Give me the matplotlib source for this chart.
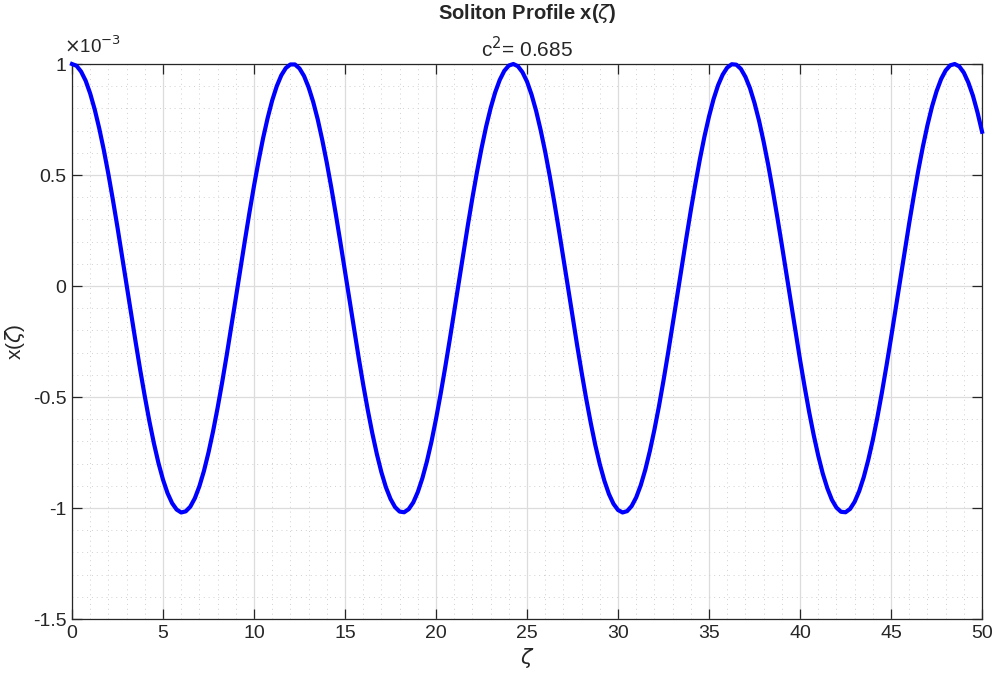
import matplotlib
matplotlib.use("Agg")
import matplotlib.pyplot as plt
from matplotlib.ticker import MultipleLocator

plt.rcParams['font.family'] = ['Liberation Sans', 'DejaVu Sans']
plt.rcParams['axes.unicode_minus'] = False

# Data (zeta sampled every 0.25, x in units of 1e-3)
zeta_start = 0.0
zeta_step = 0.25
x_e3 = [
    1.000, 0.992, 0.966, 0.925, 0.867, 0.795, 0.709, 0.612, 0.504, 0.387,
    0.264, 0.136, 0.005, -0.126, -0.254, -0.379, -0.497, -0.608, -0.708, -0.797,
    -0.872, -0.933, -0.978, -1.007, -1.020, -1.015, -0.994, -0.956, -0.902, -0.833,
    -0.750, -0.655, -0.549, -0.434, -0.312, -0.185, -0.055, 0.076, 0.205, 0.331,
    0.451, 0.563, 0.666, 0.757, 0.836, 0.900, 0.949, 0.982, 0.998, 0.998,
    0.980, 0.946, 0.895, 0.830, 0.751, 0.658, 0.555, 0.442, 0.321, 0.195,
    0.065, -0.066, -0.196, -0.322, -0.444, -0.558, -0.663, -0.757, -0.839, -0.907,
    -0.959, -0.996, -1.016, -1.019, -1.005, -0.975, -0.928, -0.866, -0.790, -0.701,
    -0.599, -0.488, -0.369, -0.244, -0.115, 0.016, 0.146, 0.274, 0.397, 0.513,
    0.620, 0.717, 0.801, 0.872, 0.928, 0.969, 0.993, 1.000, 0.990, 0.963,
    0.921, 0.862, 0.789, 0.702, 0.604, 0.495, 0.377, 0.253, 0.125, -0.005,
    -0.136, -0.265, -0.389, -0.507, -0.616, -0.716, -0.803, -0.877, -0.937, -0.981,
    -1.009, -1.020, -1.014, -0.991, -0.952, -0.897, -0.827, -0.743, -0.647, -0.541,
    -0.425, -0.302, -0.175, -0.045, 0.086, 0.215, 0.341, 0.460, 0.572, 0.674,
    0.764, 0.842, 0.905, 0.952, 0.984, 0.999, 0.997, 0.978, 0.942, 0.891,
    0.824, 0.744, 0.650, 0.546, 0.432, 0.311, 0.185, 0.055, -0.076, -0.206,
    -0.332, -0.453, -0.567, -0.671, -0.764, -0.845, -0.911, -0.963, -0.998, -1.017,
    -1.019, -1.004, -0.972, -0.924, -0.861, -0.783, -0.693, -0.591, -0.479, -0.359,
    -0.234, -0.105, 0.026, 0.156, 0.284, 0.406, 0.522, 0.628, 0.724, 0.808,
    0.877, 0.932, 0.971, 0.994, 1.000, 0.989, 0.961, 0.916, 0.857, 0.782,
    0.695,
]
zeta = [zeta_start + i * zeta_step for i in range(len(x_e3))]

x_ticks = [0, 5, 10, 15, 20, 25, 30, 35, 40, 45, 50]
y_ticks = [-1.5, -1, -0.5, 0, 0.5, 1]
y_ticklabels = ['-1.5', '-1', '-0.5', '0', '0.5', '1']

# Plotting
fig = plt.figure(figsize=(9.97, 6.81), dpi=100)
ax = fig.add_axes([0.0722, 0.091, 0.9128, 0.815])

ax.plot(zeta, x_e3, color=(0, 0, 1), lw=3, clip_on=False, zorder=3)

ax.set_xlim(0, 50)
ax.set_ylim(-1.5, 1)
ax.set_xticks(x_ticks)
ax.set_yticks(y_ticks)
ax.set_yticklabels(y_ticklabels)
ax.xaxis.set_minor_locator(MultipleLocator(1))
ax.yaxis.set_minor_locator(MultipleLocator(0.1))

ax.grid(True, which='major', color='#dcdcdc', lw=0.9)
ax.grid(True, which='minor', color='#d0d0d0', lw=0.7, ls=(0, (1, 4)))
ax.set_axisbelow(True)

ax.tick_params(which='major', direction='in', length=7, width=0.9, top=True, right=True,
               labelsize=14, colors='#262626', pad=4)
ax.tick_params(which='minor', length=0, top=True, right=True)
for s in ax.spines.values():
    s.set_color('#262626')
    s.set_linewidth(0.9)

ax.set_xlabel(r'$\zeta$', fontsize=15, color='#262626', labelpad=3)
ax.set_ylabel(r'x($\zeta$)', fontsize=15, color='#262626', labelpad=4)

ax.text(0.5, 1.005, r'c$^2$= 0.685', transform=ax.transAxes, ha='center', va='bottom',
        fontsize=15, color='#262626')
ax.text(0.5, 1.07, r'Soliton Profile x($\zeta$)', transform=ax.transAxes, ha='center',
        va='bottom', fontsize=14.5, fontweight='bold', color='#262626')
ax.text(-0.009, 1.012, r'$\times$10$^{-3}$', transform=ax.transAxes, ha='left', va='bottom',
        fontsize=13.5, color='#262626')

fig.savefig('out.png', dpi=100)
